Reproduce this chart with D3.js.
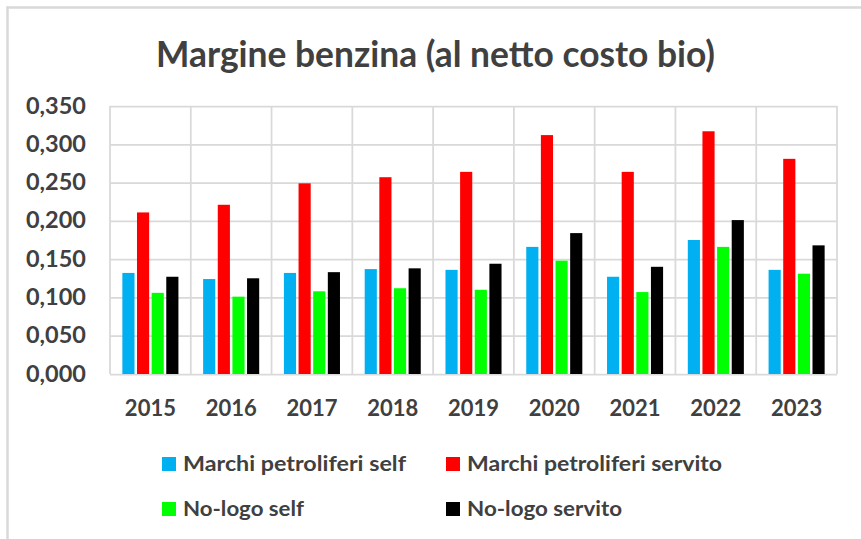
<!DOCTYPE html>
<html>
<head>
<meta charset="utf-8">
<script src="https://cdn.jsdelivr.net/npm/d3@7"></script>
<style>
  html, body { margin: 0; padding: 0; background: #ffffff; }
  svg { display: block; }
  text { font-family: Lato, "Open Sans", "DejaVu Sans", sans-serif; fill: #404040; font-weight: bold; }
</style>
</head>
<body>
<svg id="chart" width="861" height="539"></svg>
<script>
// ---- data ----
const years = ["2015", "2016", "2017", "2018", "2019", "2020", "2021", "2022", "2023"];
const seriesNames = ["Marchi petroliferi self", "Marchi petroliferi servito", "No-logo self", "No-logo servito"];
const marchiSelf    = [0.132, 0.124, 0.132, 0.137, 0.136, 0.166, 0.127, 0.175, 0.136];
const marchiServito = [0.211, 0.221, 0.249, 0.257, 0.264, 0.312, 0.264, 0.317, 0.281];
const nologoSelf    = [0.106, 0.101, 0.108, 0.112, 0.110, 0.148, 0.107, 0.166, 0.131];
const nologoServito = [0.127, 0.125, 0.133, 0.138, 0.144, 0.184, 0.140, 0.201, 0.168];
const yTicks = [0, 0.05, 0.10, 0.15, 0.20, 0.25, 0.30, 0.35];
const title = "Margine benzina (al netto costo bio)";

// ---- styling ----
const colors = ["#00B0F0", "#FF0000", "#00FF00", "#000000"];
const gridColor = "#d9d9d9";
const values = [marchiSelf, marchiServito, nologoSelf, nologoServito];

const svg = d3.select("#chart");
const W = 861, H = 539;
const plot = { left: 110, right: 837, top: 106, bottom: 374 };

// frame of chart area
svg.append("line").attr("x1", 7.5).attr("x2", 7.5).attr("y1", 6.5).attr("y2", H)
  .attr("stroke", gridColor).attr("stroke-width", 2.5);
svg.append("line").attr("x1", 6.5).attr("x2", W).attr("y1", 7.5).attr("y2", 7.5)
  .attr("stroke", gridColor).attr("stroke-width", 2.5);

// title
svg.append("text")
  .attr("x", 156).attr("y", 67)
  .attr("font-size", 36)
  .attr("textLength", 559).attr("lengthAdjust", "spacingAndGlyphs")
  .text(title);

// scales
const x0 = d3.scaleBand().domain(years).range([plot.left, plot.right]).paddingInner(0).paddingOuter(0);
const bw = x0.bandwidth();
const x1 = d3.scaleBand().domain(seriesNames).range([bw * 0.153, bw * 0.847]).paddingInner(0.17).paddingOuter(0);
const y = d3.scaleLinear().domain([0, 0.35]).range([plot.bottom, plot.top]);

const locale = d3.formatLocale({ decimal: ",", thousands: ".", grouping: [3], currency: ["€", ""] });
const fmt = locale.format(".3f");

// y axis with horizontal gridlines
const yAxis = svg.append("g")
  .attr("transform", `translate(${plot.left},0)`)
  .call(d3.axisLeft(y).tickValues(yTicks).tickFormat(fmt)
    .tickSize(-(plot.right - plot.left)).tickPadding(24));
yAxis.select(".domain").remove();
yAxis.selectAll(".tick line").attr("stroke", gridColor).attr("stroke-width", 1.75);
yAxis.selectAll(".tick text").attr("font-size", 22).attr("font-family", null).attr("fill", "#404040")
  .attr("textLength", 60).attr("lengthAdjust", "spacingAndGlyphs");

// vertical gridlines at category boundaries
const bounds = years.map(d => x0(d)).concat([plot.right]);
svg.append("g").selectAll("line").data(bounds).join("line")
  .attr("x1", d => d).attr("x2", d => d)
  .attr("y1", plot.top).attr("y2", plot.bottom)
  .attr("stroke", gridColor).attr("stroke-width", 1.75);

// bars
const groups = svg.append("g").selectAll("g").data(years).join("g")
  .attr("transform", d => `translate(${x0(d)},0)`);
groups.selectAll("rect")
  .data((d, i) => seriesNames.map((s, j) => ({ s, j, v: values[j][i] })))
  .join("rect")
  .attr("x", d => x1(d.s))
  .attr("width", x1.bandwidth())
  .attr("y", d => y(d.v))
  .attr("height", d => y(0) - y(d.v))
  .attr("fill", d => colors[d.j]);

// x axis labels
const xAxis = svg.append("g")
  .attr("transform", `translate(0,${plot.bottom})`)
  .call(d3.axisBottom(x0).tickSize(0).tickPadding(26));
xAxis.select(".domain").remove();
xAxis.selectAll(".tick text").attr("font-size", 22).attr("font-family", null).attr("fill", "#404040");

// legend
const legendPos = [
  { x: 162, y: 457, tx: 183, tl: 223 },
  { x: 446, y: 457, tx: 467, tl: 255 },
  { x: 162, y: 502, tx: 183, tl: 121 },
  { x: 446, y: 502, tx: 467, tl: 155 }
];
const leg = svg.append("g").selectAll("g").data(seriesNames).join("g");
leg.append("rect")
  .attr("x", (d, i) => legendPos[i].x).attr("y", (d, i) => legendPos[i].y)
  .attr("width", 14).attr("height", 14)
  .attr("fill", (d, i) => colors[i]);
leg.append("text")
  .attr("x", (d, i) => legendPos[i].tx).attr("y", (d, i) => legendPos[i].y + 14)
  .attr("font-size", 20)
  .attr("textLength", (d, i) => legendPos[i].tl).attr("lengthAdjust", "spacingAndGlyphs")
  .text(d => d);
</script>
</body>
</html>
